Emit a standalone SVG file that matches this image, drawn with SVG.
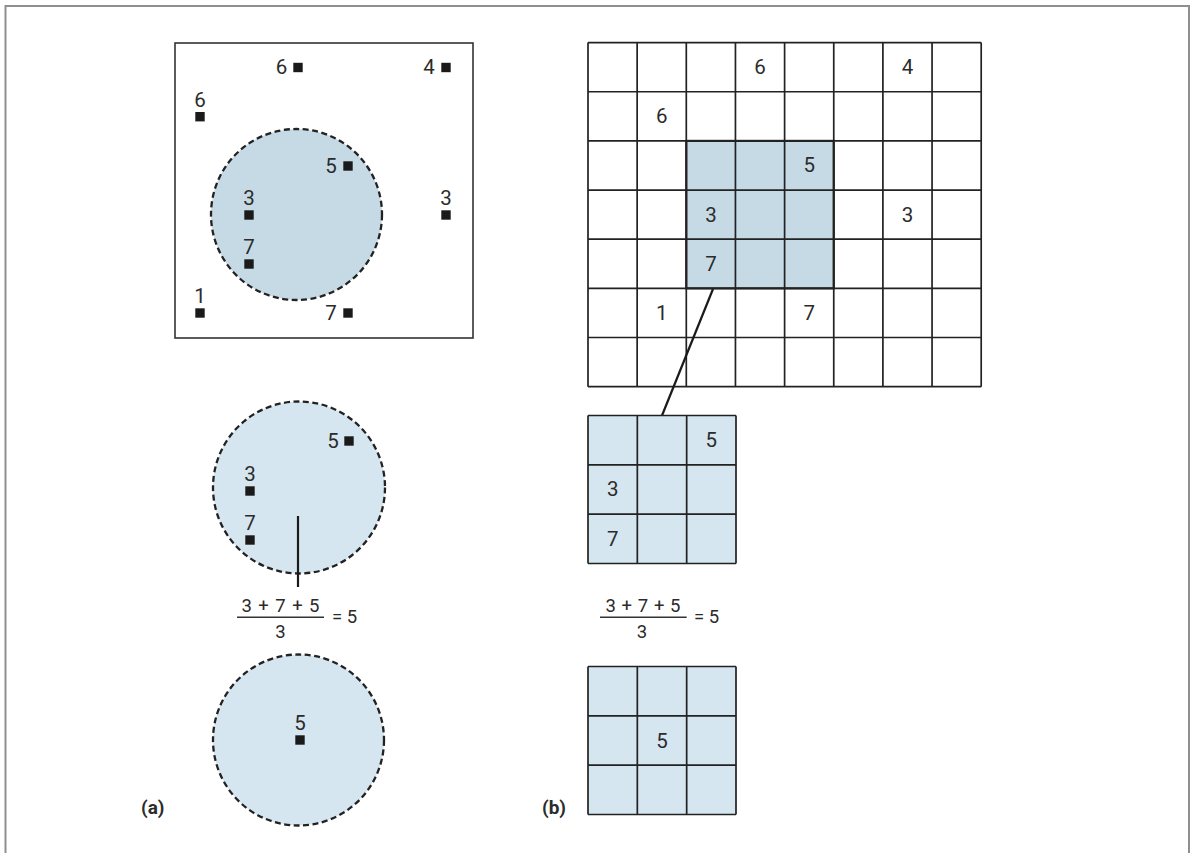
<svg xmlns="http://www.w3.org/2000/svg" width="1190" height="853" viewBox="0 0 1190 853">
<style>
.t{font-family:Roboto,"Liberation Sans",sans-serif;font-size:20.5px;fill:#2b2b2b;text-anchor:middle}
.f{font-family:Roboto,"Liberation Sans",sans-serif;font-size:18.5px;fill:#2b2b2b;text-anchor:middle}
.fe{font-family:Roboto,"Liberation Sans",sans-serif;font-size:18.5px;fill:#2b2b2b;text-anchor:start}
.lab{font-family:Roboto,"Liberation Sans",sans-serif;font-size:19px;font-weight:bold;fill:#2b2b2b}
.sq{fill:#1a1a1a}
.circ{stroke:#222;stroke-width:2.3;stroke-dasharray:6 3.5}
.grid{fill:none;stroke:#222;stroke-width:1.7}
.ln{stroke:#1a1a1a;stroke-width:2.2;fill:none}
</style>
<defs>
<rect id="pt" x="-4.7" y="-4.7" width="9.4" height="9.4" class="sq"/>
</defs>
<rect x="0" y="0" width="1190" height="853" fill="#fff"/>
<path d="M5.5 853 V6 H1189 V853" fill="none" stroke="#8f8f8f" stroke-width="2"/>

<g id="panel-a-map">
<rect x="175" y="43" width="298" height="295" fill="#fff" stroke="#333" stroke-width="1.6"/>
<circle cx="296.5" cy="214.5" r="85.5" fill="#c6dae5" class="circ"/>
<use href="#pt" x="298" y="67.5"/><text class="t" x="281.5" y="74">6</text>
<use href="#pt" x="446" y="67.5"/><text class="t" x="429" y="74">4</text>
<use href="#pt" x="200" y="116.7"/><text class="t" x="200" y="107">6</text>
<use href="#pt" x="348" y="166"/><text class="t" x="331" y="172.5">5</text>
<use href="#pt" x="249" y="215"/><text class="t" x="249" y="205">3</text>
<use href="#pt" x="446" y="215"/><text class="t" x="446" y="205">3</text>
<use href="#pt" x="249" y="264"/><text class="t" x="249" y="254">7</text>
<use href="#pt" x="200" y="313"/><text class="t" x="200" y="303">1</text>
<use href="#pt" x="348" y="313"/><text class="t" x="331" y="319.5">7</text>
</g>

<g id="panel-a-window">
<circle cx="299" cy="487.5" r="86" fill="#d5e6f0" class="circ"/>
<use href="#pt" x="349" y="441"/><text class="t" x="333" y="447.5">5</text>
<use href="#pt" x="250" y="491"/><text class="t" x="250" y="481">3</text>
<use href="#pt" x="250" y="540"/><text class="t" x="250" y="530">7</text>
</g>

<g id="panel-a-formula">
<text class="f" x="280.5" y="611.7" textLength="78" lengthAdjust="spacing">3 + 7 + 5</text>
<line x1="237" y1="617.3" x2="324" y2="617.3" stroke="#333" stroke-width="1.6"/>
<text class="f" x="280.5" y="638">3</text>
<text class="fe" x="332" y="622.5">= 5</text>
</g>

<g id="panel-a-result">
<circle cx="298.5" cy="740" r="85.5" fill="#d5e6f0" class="circ"/>
<use href="#pt" x="300" y="740"/><text class="t" x="300" y="730">5</text>
</g>

<g id="label-a"><text class="lab" x="141" y="813.5">(a)</text></g>

<g id="panel-b-grid">
<rect x="588" y="42.6" width="393.2" height="344.05" fill="#fff"/>
<rect x="686.3" y="140.9" width="147.45" height="147.45" fill="#c6dae5"/>
<path class="grid" d="M588 42.6V386.65M637.15 42.6V386.65M686.3 42.6V386.65M735.45 42.6V386.65M784.6 42.6V386.65M833.75 42.6V386.65M882.9 42.6V386.65M932.05 42.6V386.65M981.2 42.6V386.65M588 42.6H981.2M588 91.75H981.2M588 140.9H981.2M588 190.05H981.2M588 239.2H981.2M588 288.35H981.2M588 337.5H981.2M588 386.65H981.2"/>
<rect x="686.3" y="140.9" width="147.45" height="147.45" fill="none" stroke="#222" stroke-width="2.2"/>
<text class="t" x="760" y="74">6</text>
<text class="t" x="907.5" y="74">4</text>
<text class="t" x="661.7" y="123.2">6</text>
<text class="t" x="809.2" y="172.4">5</text>
<text class="t" x="710.9" y="221.5">3</text>
<text class="t" x="907.5" y="221.5">3</text>
<text class="t" x="710.9" y="270.7">7</text>
<text class="t" x="661.7" y="319.8">1</text>
<text class="t" x="809.2" y="319.8">7</text>
</g>

<g id="connectors">
<line class="ln" x1="713" y1="289" x2="662" y2="415.5"/>
<line class="ln" x1="298" y1="516" x2="298" y2="587"/>
</g>

<g id="panel-b-window">
<rect x="588" y="415.5" width="148" height="148" fill="#d5e6f0"/>
<path class="grid" d="M588 415.5V563.5M637.33 415.5V563.5M686.67 415.5V563.5M736 415.5V563.5M588 415.5H736M588 464.83H736M588 514.17H736M588 563.5H736"/>
<text class="t" x="711.3" y="447.1">5</text>
<text class="t" x="612.7" y="496.4">3</text>
<text class="t" x="612.7" y="545.7">7</text>
</g>

<g id="panel-b-formula">
<text class="f" x="643" y="611.7" textLength="75" lengthAdjust="spacing">3 + 7 + 5</text>
<line x1="600" y1="617.3" x2="686.7" y2="617.3" stroke="#333" stroke-width="1.6"/>
<text class="f" x="642" y="638">3</text>
<text class="fe" x="694" y="622.5">= 5</text>
</g>

<g id="panel-b-result">
<rect x="588" y="666.5" width="148" height="148" fill="#d5e6f0"/>
<path class="grid" d="M588 666.5V814.5M637.33 666.5V814.5M686.67 666.5V814.5M736 666.5V814.5M588 666.5H736M588 715.83H736M588 765.17H736M588 814.5H736"/>
<text class="t" x="662" y="747.5">5</text>
</g>

<g id="label-b"><text class="lab" x="542" y="813.5">(b)</text></g>
</svg>
